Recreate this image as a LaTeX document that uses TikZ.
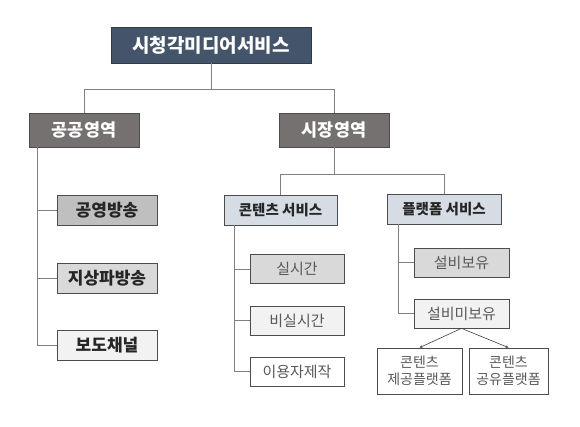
\documentclass[tikz,border=0pt]{standalone}
\usepackage{fontspec}
\setmainfont{Noto Sans CJK KR}
\usetikzlibrary{positioning,arrows.meta}

\definecolor{navy}{HTML}{44546A}
\definecolor{taupe}{HTML}{767171}
\definecolor{paleblue}{HTML}{D6DCE4}
\definecolor{textgray}{HTML}{595959}

\begin{document}
\begin{tikzpicture}[x=1pt,y=-1pt,
    box/.style={draw=black!70,line width=0.7pt,inner sep=0pt,align=center},
    head/.style={box,fill=navy,draw=navy!70!black,text=white,font=\fontsize{19}{22}\selectfont\bfseries,minimum width=200pt,minimum height=36pt},
    area/.style={box,fill=taupe,draw=black!70,text=white,font=\fontsize{17.5}{20}\selectfont\bfseries,minimum width=110pt,minimum height=34pt},
    public/.style={box,text=black!85,font=\fontsize{17}{20}\selectfont\bfseries,minimum width=100pt,minimum height=30pt},
    service/.style={box,fill=paleblue,text=black!85,font=\fontsize{14.5}{17}\selectfont\bfseries,minimum height=30pt},
    item/.style={box,text=textgray,font=\fontsize{15}{18}\selectfont,minimum width=94pt,minimum height=29pt},
    platform/.style={box,text=textgray,font=\fontsize{14}{17}\selectfont,minimum height=46pt},
    link/.style={draw=black!50,line width=0.8pt}]
  \useasboundingbox (0,0) rectangle (580,427);
  % top and the two areas
  \node[head] (media) at (211,45) {시청각미디어서비스};
  \node[area] (public) at (84,130) {공공영역};
  \node[area] (market) at (334,130) {시장영역};
  \coordinate (bus) at (211,89);
  \coordinate (mbus) at (334,174);
  % public broadcasting
  \node[public,fill=black!25] (gongyeong) at (107,210) {공영방송};
  \node[public,fill=black!15] (jisangpa) at (107,278) {지상파방송};
  \node[public,fill=black!5] (bodo) at (107,345) {보도채널};
  % market services
  \node[service,minimum width=113pt] (content) at (280.5,210) {콘텐츠 서비스};
  \node[service,minimum width=114pt] (platform) at (444,209) {플랫폼 서비스};
  \node[item,fill=black!15] (realtime) at (297,269) {실시간};
  \node[item,fill=black!5] (nonreal) at (297,320.5) {비실시간};
  \node[item,fill=white] (usermade) at (297,371.5) {이용자제작};
  \node[item,fill=black!15,minimum width=95pt] (own) at (461.5,262.5) {설비보유};
  \node[item,fill=black!5,minimum width=95pt] (notown) at (461.5,313.5) {설비미보유};
  \node[platform,minimum width=85pt] (supply) at (419.5,371) {콘텐츠\\제공플랫폼};
  \node[platform,minimum width=79pt] (share) at (508.5,371) {콘텐츠\\공유플랫폼};
  % connectors
  \path[link] (media.south) -- (bus) -| (public.north);
  \path[link] (bus) -| (market.north);
  \path[link] (market.south) -- (mbus) -| (content.north);
  \path[link] (mbus) -| (platform.north);
  \path[link] ([xshift=9pt]public.south west) |- (gongyeong.west);
  \path[link] ([xshift=9pt]public.south west) |- (jisangpa.west);
  \path[link] ([xshift=9pt]public.south west) |- (bodo.west);
  \path[link] ([xshift=11pt]content.south west) |- (realtime.west);
  \path[link] ([xshift=11pt]content.south west) |- (nonreal.west);
  \path[link] ([xshift=11pt]content.south west) |- (usermade.west);
  \path[link] ([xshift=12pt]platform.south west) |- (own.west);
  \path[link] ([xshift=12pt]platform.south west) |- (notown.west);
  \draw[link,draw=black!75,line width=0.6pt,-{Stealth[length=3pt,width=2.5pt]}] (notown.south) -- (supply.north);
  \draw[link,draw=black!75,line width=0.6pt,-{Stealth[length=3pt,width=2.5pt]}] (notown.south) -- (share.north);
\end{tikzpicture}
\end{document}
